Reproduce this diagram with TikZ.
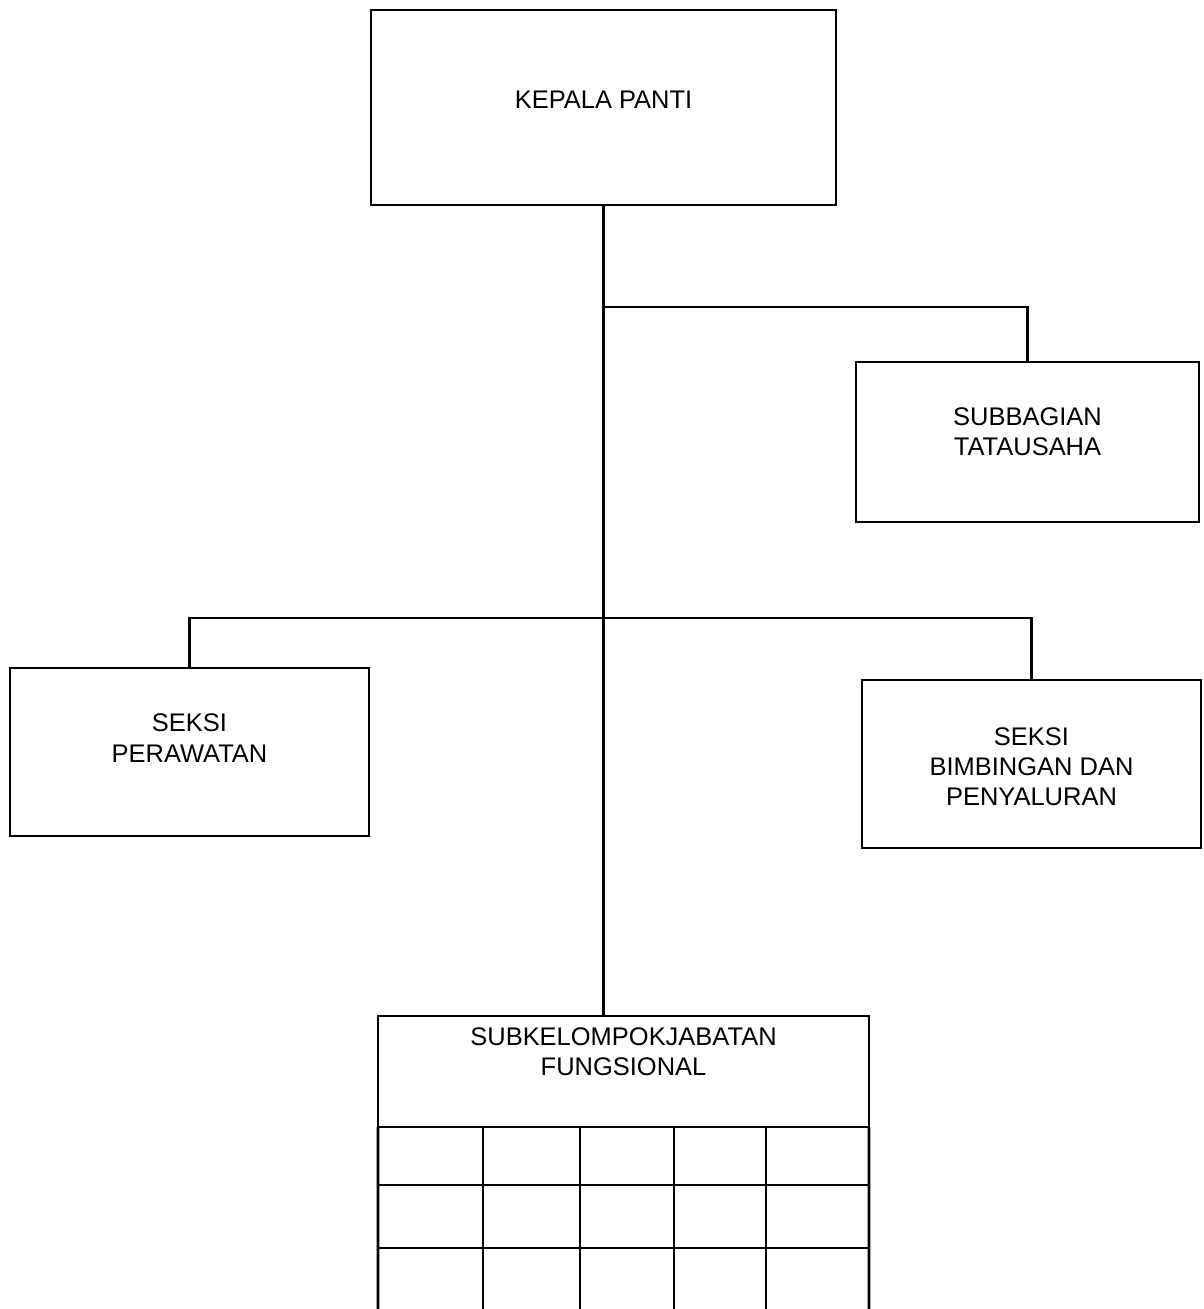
\documentclass[tikz,border=0pt]{standalone}
\usepackage{fontspec}
\setmainfont{Liberation Sans}
\usepackage{tikz}

\begin{document}
\begin{tikzpicture}[x=0.02cm, y=-0.02cm, line width=1.6pt,
    font=\fontsize{14.5}{17.2}\selectfont,
    unit/.style={draw, rectangle, inner sep=0pt, outer sep=0pt},
    teks/.style={align=center, inner sep=0pt}]
  \useasboundingbox (0,0) rectangle (1204,1309);

  % boxes
  \node[unit, minimum width=9.30cm, minimum height=3.90cm] (kepala) at (603.5,107.5) {};
  \node[unit, minimum width=6.86cm, minimum height=3.20cm] (subbag) at (1027.5,442) {};
  \node[unit, minimum width=7.18cm, minimum height=3.36cm] (perawatan) at (189.5,752) {};
  \node[unit, minimum width=6.78cm, minimum height=3.36cm] (bimbingan) at (1031.5,764) {};
  \node[unit, minimum width=9.82cm, minimum height=2.22cm] (fungsional) at (623.5,1071.5) {};

  % texts
  \node[teks] (kepalateks) at ([yshift=0.16cm]kepala) {KEPALA PANTI};
  \node[teks] (subbagteks) at ([yshift=0.20cm]subbag) {SUBBAGIAN\\TATAUSAHA};
  \node[teks] (perawatanteks) at ([yshift=0.28cm]perawatan) {SEKSI\\PERAWATAN};
  \node[teks] (bimbinganteks) at ([yshift=-0.06cm]bimbingan) {SEKSI\\BIMBINGAN DAN\\PENYALURAN};
  \node[teks] (fungsionalteks) at (623.5,1052) {SUBKELOMPOKJABATAN\\FUNGSIONAL};

  % grid under the functional group
  \draw (fungsional.south west) -- (378,1309);
  \draw (fungsional.south east) -- (869,1309);
  \foreach \x in {483,580,674,766}
    \draw (\x,1127) -- (\x,1309);
  \foreach \y in {1185,1248}
    \draw (378,\y) -- (869,\y);

  % lines of command
  \coordinate (tu) at (603.5,307);
  \coordinate (seksi) at (603.5,618);
  \draw (kepala.south) -- (kepala.south |- fungsional.north);
  \draw (tu) -| (subbag.north);
  \draw (perawatan.north) |- (seksi) -| (bimbingan.north);

\end{tikzpicture}
\end{document}
